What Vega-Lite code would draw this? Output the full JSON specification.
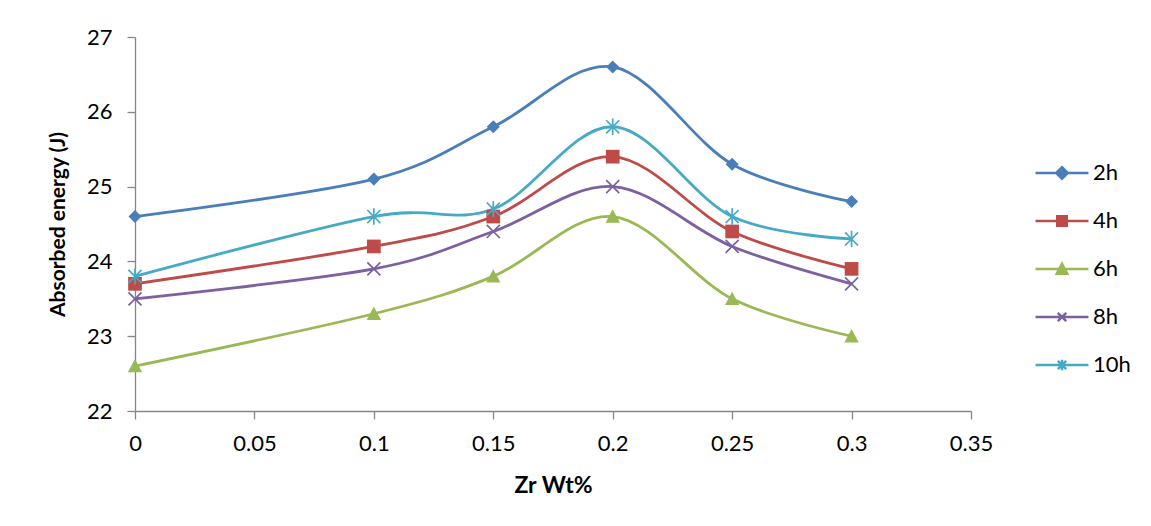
{
  "$schema": "https://vega.github.io/schema/vega-lite/v6.json",
  "width": 836,
  "height": 374,
  "autosize": {"type": "none"},
  "padding": {"left": 135, "top": 37, "right": 180, "bottom": 115},
  "background": "white",
  "config": {
    "view": {"stroke": null},
    "font": "Lato",
    "axis": {
      "grid": false,
      "domainColor": "#868686",
      "tickColor": "#868686",
      "domainWidth": 1.3,
      "tickWidth": 1.3,
      "tickSize": 8,
      "labelFont": "Lato",
      "labelFontSize": 22,
      "labelColor": "#000000",
      "labelFlush": false,
      "titleFont": "Lato",
      "titleFontSize": 23,
      "titleFontWeight": "bold",
      "titleColor": "#000000"
    }
  },
  "data": {
    "values": [
      {"zr": 0, "series": "2h", "energy": 24.6},
      {"zr": 0.1, "series": "2h", "energy": 25.1},
      {"zr": 0.15, "series": "2h", "energy": 25.8},
      {"zr": 0.2, "series": "2h", "energy": 26.6},
      {"zr": 0.25, "series": "2h", "energy": 25.3},
      {"zr": 0.3, "series": "2h", "energy": 24.8},
      {"zr": 0, "series": "4h", "energy": 23.7},
      {"zr": 0.1, "series": "4h", "energy": 24.2},
      {"zr": 0.15, "series": "4h", "energy": 24.6},
      {"zr": 0.2, "series": "4h", "energy": 25.4},
      {"zr": 0.25, "series": "4h", "energy": 24.4},
      {"zr": 0.3, "series": "4h", "energy": 23.9},
      {"zr": 0, "series": "6h", "energy": 22.6},
      {"zr": 0.1, "series": "6h", "energy": 23.3},
      {"zr": 0.15, "series": "6h", "energy": 23.8},
      {"zr": 0.2, "series": "6h", "energy": 24.6},
      {"zr": 0.25, "series": "6h", "energy": 23.5},
      {"zr": 0.3, "series": "6h", "energy": 23.0},
      {"zr": 0, "series": "8h", "energy": 23.5},
      {"zr": 0.1, "series": "8h", "energy": 23.9},
      {"zr": 0.15, "series": "8h", "energy": 24.4},
      {"zr": 0.2, "series": "8h", "energy": 25.0},
      {"zr": 0.25, "series": "8h", "energy": 24.2},
      {"zr": 0.3, "series": "8h", "energy": 23.7},
      {"zr": 0, "series": "10h", "energy": 23.8},
      {"zr": 0.1, "series": "10h", "energy": 24.6},
      {"zr": 0.15, "series": "10h", "energy": 24.7},
      {"zr": 0.2, "series": "10h", "energy": 25.8},
      {"zr": 0.25, "series": "10h", "energy": 24.6},
      {"zr": 0.3, "series": "10h", "energy": 24.3}
    ]
  },
  "encoding": {
    "x": {
      "field": "zr",
      "type": "quantitative",
      "scale": {"domain": [0, 0.35], "nice": false, "zero": false},
      "axis": {
        "values": [0, 0.05, 0.1, 0.15, 0.2, 0.25, 0.3, 0.35],
        "format": "~g",
        "labelPadding": 14,
        "title": "Zr Wt%",
        "titlePadding": 20
      }
    },
    "y": {
      "field": "energy",
      "type": "quantitative",
      "scale": {"domain": [22, 27], "nice": false, "zero": false},
      "axis": {
        "values": [22, 23, 24, 25, 26, 27],
        "labelPadding": 15,
        "title": "Absorbed energy (J)",
        "titleFontSize": 21,
        "titlePadding": 18
      }
    }
  },
  "layer": [
    {
      "mark": {"type": "line", "interpolate": "cardinal", "tension": 0, "strokeWidth": 2.8},
      "encoding": {
        "color": {
          "field": "series",
          "type": "nominal",
          "scale": {
            "domain": ["2h", "4h", "6h", "8h", "10h"],
            "range": ["#4A7EBB", "#BE4B48", "#98B954", "#7D60A0", "#46AAC5"]
          },
          "legend": {
            "title": null,
            "orient": "none",
            "legendX": 916,
            "legendY": 125,
            "padding": 0,
            "symbolSize": 112,
            "symbolStrokeWidth": 2.5,
            "labelFont": "Lato",
            "labelFontSize": 22,
            "labelColor": "#000000",
            "labelOffset": 20,
            "rowPadding": 26,
            "encode": {
              "symbols": {
                "update": {
                  "shape": {"signal": "datum.value == '2h' ? 'M-5,0H5M0,-1.1L1.1,0L0,1.1L-1.1,0Z' : datum.value == '4h' ? 'M-5,0H5M-0.9,-0.9H0.9V0.9H-0.9Z' : datum.value == '6h' ? 'M-5,0H5M0,-1L1,0.9H-1Z' : datum.value == '8h' ? 'M-5,0H5M-0.8,-0.8L0.8,0.8M-0.8,0.8L0.8,-0.8' : 'M-5,0H5M-0.8,-0.8L0.8,0.8M-0.8,0.8L0.8,-0.8M0,-1V1'"},
                  "fill": {"scale": "color", "field": "value"},
                  "stroke": {"scale": "color", "field": "value"},
                  "strokeWidth": {"value": 2.5},
                  "opacity": {"value": 1}
                }
              }
            }
          }
        }
      }
    },
    {
      "transform": [{"filter": {"field": "series", "equal": "2h"}}],
      "mark": {"type": "point", "shape": "M0,-1L1,0L0,1L-1,0Z", "filled": true, "opacity": 1, "size": 170, "color": "#4A7EBB"}
    },
    {
      "transform": [{"filter": {"field": "series", "equal": "4h"}}],
      "mark": {"type": "point", "shape": "M-1.05,-1.05H1.05V1.05H-1.05Z", "filled": true, "opacity": 1, "size": 170, "color": "#BE4B48"}
    },
    {
      "transform": [{"filter": {"field": "series", "equal": "6h"}}],
      "mark": {"type": "point", "shape": "M0,-1.1L1.1,0.95H-1.1Z", "filled": true, "opacity": 1, "size": 170, "color": "#98B954"}
    },
    {
      "transform": [{"filter": {"field": "series", "equal": "8h"}}],
      "mark": {"type": "point", "shape": "M-1,-1L1,1M-1,1L1,-1", "filled": false, "opacity": 1, "size": 170, "strokeWidth": 1.7, "color": "#7D60A0"}
    },
    {
      "transform": [{"filter": {"field": "series", "equal": "10h"}}],
      "mark": {"type": "point", "shape": "M-1,-1L1,1M-1,1L1,-1M0,-1.25V1.25", "filled": false, "opacity": 1, "size": 170, "strokeWidth": 1.7, "color": "#46AAC5"}
    }
  ]
}
